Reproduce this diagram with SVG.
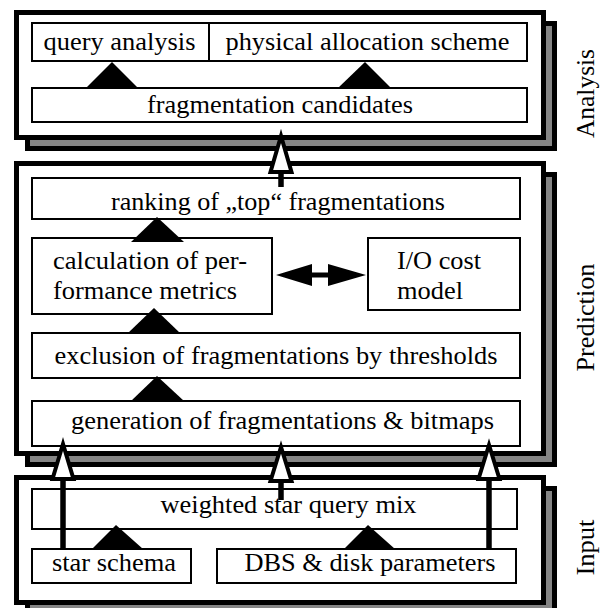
<svg xmlns="http://www.w3.org/2000/svg" width="613" height="608" viewBox="0 0 613 608">
  <style>
    .shadow { fill: #858585; stroke: #000; stroke-width: 5; }
    .frame { fill: #fff; stroke: #000; stroke-width: 5; }
    .box { fill: #fff; stroke: #000; stroke-width: 2; }
    text { font-family: "Liberation Serif", "Times New Roman", Times, serif; font-size: 26px; fill: #000; }
    .c { text-anchor: middle; }
    .tri { fill: #000; }
    .head { fill: #fff; stroke: #000; stroke-width: 4; stroke-linejoin: miter; stroke-miterlimit: 8; }
    .shaft { stroke: #000; stroke-width: 5.5; fill: none; }
  </style>

  <!-- layer frames with drop shadows -->
  <g id="layer-analysis">
    <rect class="shadow" x="27.5" y="23.5" width="527" height="125"/>
    <rect class="frame" x="16.5" y="12.5" width="527" height="125"/>
    <text class="c" transform="translate(594,93.5) rotate(-90)" textLength="89" lengthAdjust="spacingAndGlyphs">Analysis</text>
  </g>
  <g id="layer-prediction">
    <rect class="shadow" x="27.5" y="174.5" width="527" height="290"/>
    <rect class="frame" x="16.5" y="163.5" width="527" height="290"/>
    <text class="c" transform="translate(594,317.5) rotate(-90)" textLength="108" lengthAdjust="spacingAndGlyphs">Prediction</text>
  </g>
  <g id="layer-input">
    <rect class="shadow" x="27.5" y="488.5" width="527" height="125"/>
    <rect class="frame" x="16.5" y="477.5" width="527" height="125"/>
    <text class="c" transform="translate(594,547.5) rotate(-90)" textLength="56" lengthAdjust="spacingAndGlyphs">Input</text>
  </g>

  <!-- analysis steps -->
  <g id="query-analysis">
    <rect class="box" x="32" y="23" width="177" height="38"/>
    <text class="c" x="119.5" y="50" textLength="152" lengthAdjust="spacingAndGlyphs">query analysis</text>
  </g>
  <g id="physical-allocation">
    <rect class="box" x="209" y="23" width="318" height="38"/>
    <text class="c" x="367.5" y="50" textLength="284" lengthAdjust="spacingAndGlyphs">physical allocation scheme</text>
  </g>
  <g id="fragmentation-candidates">
    <rect class="box" x="32" y="88" width="495" height="34"/>
    <text class="c" x="280" y="113" textLength="266" lengthAdjust="spacingAndGlyphs">fragmentation candidates</text>
  </g>

  <!-- prediction steps -->
  <g id="ranking">
    <rect class="box" x="32" y="178" width="488" height="41"/>
    <text class="c" x="278" y="209.5" textLength="334" lengthAdjust="spacingAndGlyphs">ranking of „top“ fragmentations</text>
  </g>
  <g id="performance-metrics">
    <rect class="box" x="32" y="238" width="240" height="76"/>
    <text x="53" y="269" textLength="194" lengthAdjust="spacingAndGlyphs">calculation of per-</text>
    <text x="53" y="299" textLength="184" lengthAdjust="spacingAndGlyphs">formance metrics</text>
  </g>
  <g id="io-cost-model">
    <rect class="box" x="368" y="238" width="152" height="72"/>
    <text x="397" y="269" textLength="84" lengthAdjust="spacingAndGlyphs">I/O cost</text>
    <text x="397" y="299" textLength="66" lengthAdjust="spacingAndGlyphs">model</text>
  </g>
  <g id="exclusion">
    <rect class="box" x="32" y="333" width="488" height="45"/>
    <text class="c" x="276" y="364" textLength="443" lengthAdjust="spacingAndGlyphs">exclusion of fragmentations by thresholds</text>
  </g>
  <g id="generation">
    <rect class="box" x="32" y="401" width="488" height="45"/>
    <text class="c" x="282.5" y="429" textLength="423" lengthAdjust="spacingAndGlyphs">generation of fragmentations &amp; bitmaps</text>
  </g>

  <!-- input steps -->
  <g id="query-mix">
    <rect class="box" x="32" y="489" width="485" height="40"/>
    <text class="c" x="288.5" y="513" textLength="256" lengthAdjust="spacingAndGlyphs">weighted star query mix</text>
  </g>
  <g id="star-schema">
    <rect class="box" x="32" y="549" width="159" height="34"/>
    <text class="c" x="114" y="571" textLength="124" lengthAdjust="spacingAndGlyphs">star schema</text>
  </g>
  <g id="dbs-parameters">
    <rect class="box" x="217" y="549" width="299" height="34"/>
    <text class="c" x="370" y="571" textLength="251" lengthAdjust="spacingAndGlyphs">DBS &amp; disk parameters</text>
  </g>

  <!-- connectors -->
  <g id="connectors">
    <!-- solid flow arrowheads between adjacent steps -->
    <polygon class="tri" points="112,62 86,88 138,88"/>
    <polygon class="tri" points="365,62 338,88 391,88"/>
    <polygon class="tri" points="157,217 131,242 184,242"/>
    <polygon class="tri" points="154,308 128,333 180,333"/>
    <polygon class="tri" points="157,376 131,401 184,401"/>
    <polygon class="tri" points="116,525 92,549 143,549"/>
    <polygon class="tri" points="368,525 344,549 395,549"/>

    <!-- metrics <-> cost model -->
    <polygon class="tri" points="276,275 312,264 312,272.5 328,272.5 328,264 366,275 328,286 328,277.5 312,277.5 312,286"/>

    <!-- hollow arrows between layers -->
    <line class="shaft" x1="281" y1="172" x2="281" y2="187"/>
    <polygon class="head" points="281,136 270.5,172 291.5,172"/>

    <line class="shaft" x1="63" y1="479" x2="63" y2="549"/>
    <polygon class="head" points="63,444 52.5,479 73.5,479"/>

    <line class="shaft" x1="281" y1="481" x2="281" y2="500"/>
    <polygon class="head" points="281,447 270.5,481 291.5,481"/>

    <line class="shaft" x1="489" y1="479" x2="489" y2="549"/>
    <polygon class="head" points="489,445 478.5,479 499.5,479"/>
  </g>
</svg>
